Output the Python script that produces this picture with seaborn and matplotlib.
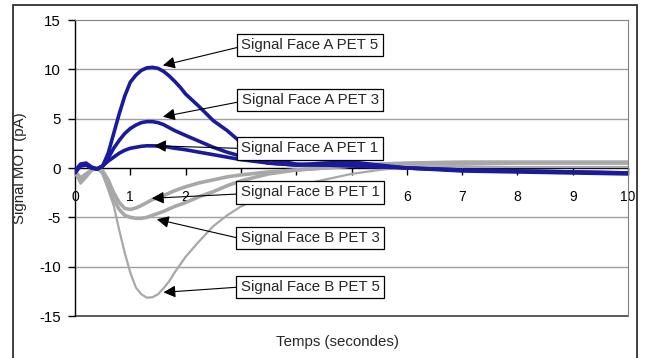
import matplotlib
matplotlib.use("Agg")
import matplotlib.pyplot as plt
import seaborn as sns
import pandas as pd
from matplotlib.patches import Rectangle

# ---- data ----
time_s = [0, 0.1, 0.2, 0.3, 0.4, 0.5, 0.6, 0.7, 0.8, 0.9, 1.0, 1.1, 1.2, 1.3, 1.4, 1.5,
          1.6, 1.7, 1.8, 1.9, 2.0, 2.25, 2.5, 2.75, 3.0, 3.5, 4.0, 4.5, 5.0, 5.5,
          6, 7, 8, 9, 10]

face_a_pet5 = [-0.3, 0.4, 0.5, 0.1, -0.1, 0.2, 1.5, 3.5, 5.5, 7.3, 8.7, 9.4, 9.9, 10.15, 10.2, 10.1,
               9.8, 9.35, 8.8, 8.2, 7.5, 6.2, 4.8, 3.8, 2.6, 0.9, 0.4, 0.3, 0.2, 0.1,
               0.0, -0.2, -0.3, -0.4, -0.5]
face_a_pet3 = [-0.4, 0.3, 0.4, 0.0, -0.1, 0.2, 1.0, 2.0, 2.8, 3.5, 4.0, 4.35, 4.6, 4.7, 4.7, 4.6,
               4.4, 4.1, 3.8, 3.55, 3.3, 2.7, 2.1, 1.6, 1.2, 0.5, 0.3, 0.3, 0.4, 0.2,
               0.0, -0.2, -0.3, -0.4, -0.5]
face_a_pet1 = [-0.5, 0.2, 0.3, 0.0, -0.1, 0.2, 0.7, 1.1, 1.5, 1.8, 2.0, 2.1, 2.2, 2.25, 2.25, 2.23,
               2.2, 2.1, 2.0, 1.93, 1.85, 1.6, 1.35, 1.1, 0.85, 0.5, 0.3, 0.5, 0.6, 0.3,
               0.0, -0.3, -0.4, -0.5, -0.6]
face_b_pet1 = [-0.3, -1.0, -0.6, -0.2, 0.0, -0.3, -1.2, -2.5, -3.5, -4.1, -4.2, -4.05, -3.8, -3.5, -3.2, -3.0,
               -2.8, -2.55, -2.3, -2.1, -1.9, -1.5, -1.2, -0.9, -0.7, -0.4, -0.2, 0.0, 0.2, 0.4,
               0.5, 0.6, 0.6, 0.6, 0.6]
face_b_pet3 = [-0.4, -1.3, -0.8, -0.2, 0.0, -0.5, -1.8, -3.2, -4.2, -4.8, -5.0, -5.1, -5.1, -5.0, -4.8, -4.6,
               -4.4, -4.15, -3.9, -3.7, -3.5, -2.9, -2.4, -1.8, -1.3, -0.6, -0.2, 0.0, 0.2, 0.3,
               0.4, 0.4, 0.5, 0.5, 0.5]
face_b_pet5 = [-0.5, -1.6, -1.0, -0.3, 0.0, -0.6, -2.2, -3.8, -6.3, -8.6, -10.6, -12.1, -12.8, -13.15, -13.1, -12.8,
               -12.2, -11.5, -10.6, -9.8, -9.0, -7.4, -5.9, -4.8, -3.9, -2.6, -1.8, -1.2, -0.6, -0.2,
               0.1, 0.1, 0.1, 0.1, 0.1]

labels = ["Signal Face A PET 5", "Signal Face A PET 3", "Signal Face A PET 1",
          "Signal Face B PET 1", "Signal Face B PET 3", "Signal Face B PET 5"]
x_ticks = [0, 1, 2, 3, 4, 5, 6, 7, 8, 9, 10]
y_ticks = [-15, -10, -5, 0, 5, 10, 15]

# ---- style ----
sns.set_style("white")
plt.rcParams['font.family'] = ['Liberation Sans', 'DejaVu Sans']

fig = plt.figure(figsize=(6.45, 3.58), dpi=100)
ax = fig.add_axes([75/645, 1-316/358, (628-75)/645, (316-20)/358])

blue = '#1a1a9c'
gray = '#a8a8a8'

# gridlines
for yv in [-10, -5, 5, 10]:
    ax.axhline(yv, color='#a0a0a0', lw=1.0, zorder=0)

series = [(face_b_pet5, gray, 1.6), (face_b_pet3, gray, 2.6), (face_b_pet1, gray, 2.6),
          (face_a_pet5, blue, 2.6), (face_a_pet3, blue, 2.6), (face_a_pet1, blue, 2.6)]
for vals, col, lw in series:
    df = pd.DataFrame({"t": time_s, "v": vals})
    sns.lineplot(data=df, x="t", y="v", color=col, lw=lw, ax=ax, zorder=3)

ax.set_xlim(0, 10)
ax.set_ylim(-15, 15)
ax.set_yticks(y_ticks)
ax.set_yticklabels([str(v) for v in y_ticks], fontsize=10.8)
ax.set_xticks(x_ticks)
ax.set_xticklabels([str(v) for v in x_ticks], fontsize=10.8)

# x axis at y=0
ax.spines['bottom'].set_position(('data', 0))
ax.spines['bottom'].set_color('black')
ax.spines['bottom'].set_linewidth(1.0)
ax.spines['bottom'].set_zorder(2)
ax.spines['left'].set_color('black')
ax.spines['left'].set_linewidth(1.0)
ax.spines['top'].set_color('#808080')
ax.spines['right'].set_color('#808080')
ax.axhline(-15, color='#404040', lw=1.2, zorder=1, clip_on=False)
ax.tick_params(axis='x', direction='out', length=5, width=1, pad=11, colors='black')
ax.tick_params(axis='y', direction='out', length=5, width=1, pad=5, colors='black')
ax.tick_params(left=True, bottom=True)

ax.set_xlabel("Temps (secondes)", fontsize=10.8)
ax.set_ylabel("Signal MOT (pA)", fontsize=10.8)
ax.xaxis.set_label_coords((338-75)/553, -(335-316)/296)
ax.yaxis.set_label_coords(-(75-27)/553, 0.5)

# annotations
ann = [
    (labels[0], (1.59, 10.4), 12.46, 0.4),
    (labels[1], (1.59, 5.2), 6.89, 0.4),
    (labels[2], (1.43, 2.26), 1.98, 0.5),
    (labels[3], (1.39, -3.07), -2.48, 0.4),
    (labels[4], (1.48, -5.2), -7.09, 0.45),
    (labels[5], (1.60, -12.6), -12.06, 0.5),
]
for txt, tip, ty, ry in ann:
    ax.annotate(txt, xy=tip, xytext=(4.25, ty), textcoords='data',
                ha='center', va='center', fontsize=10.8, zorder=5,
                bbox=dict(boxstyle='square,pad=0.28', fc='white', ec='black', lw=0.9),
                arrowprops=dict(arrowstyle='-|>', color='black', lw=0.8,
                                mutation_scale=18, shrinkA=0, shrinkB=0,
                                relpos=(0, ry)))

# outer chart border
fig.patches.append(Rectangle((13/645, -0.05), (637-13)/645, 1-5/358+0.05,
                             transform=fig.transFigure, fill=False,
                             ec='#303030', lw=1.3))

fig.savefig("out.png", dpi=100)
